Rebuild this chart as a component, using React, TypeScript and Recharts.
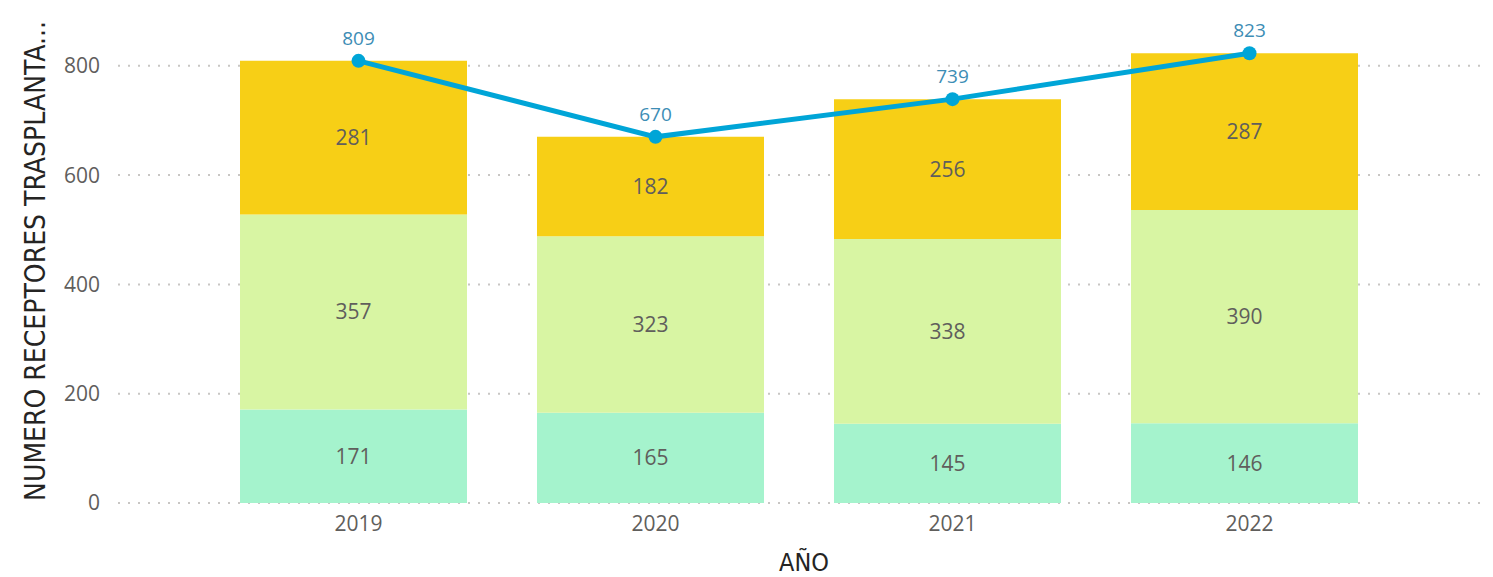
import React from "react";
import {
  Bar,
  CartesianGrid,
  ComposedChart,
  LabelList,
  Line,
  XAxis,
  YAxis,
} from "recharts";

// Values, bottom segment first.
const YEARS = ["2019", "2020", "2021", "2022"];
const SEG_BOTTOM = [171, 165, 145, 146];
const SEG_MIDDLE = [357, 323, 338, 390];
const SEG_TOP = [281, 182, 256, 287];
const TOTALS = [809, 670, 739, 823];
const Y_TICKS = [0, 200, 400, 600, 800];

const data = YEARS.map((year, i) => ({
  year,
  bottom: SEG_BOTTOM[i],
  middle: SEG_MIDDLE[i],
  top: SEG_TOP[i],
  total: TOTALS[i],
}));

const TEXT_FONT = '"Segoe UI", "Open Sans", sans-serif';
const TITLE_FONT = '"Liberation Sans Narrow", "DejaVu Sans Condensed", sans-serif';
const MUTED = "#605E5C";
const LINE_BLUE = "#00A5D7";

const barLabel = {
  fill: MUTED,
  fontSize: 21,
  fontFamily: TEXT_FONT,
};

function YTitle({ viewBox }: { viewBox?: { x: number; y: number; height: number } }) {
  if (!viewBox) return null;
  const cx = viewBox.x + 45;
  const cy = viewBox.y + viewBox.height / 2 - 7;
  return (
    <text
      x={cx}
      y={cy}
      transform={`rotate(-90 ${cx} ${cy})`}
      textAnchor="middle"
      fill="#252423"
      fontSize={28}
      fontFamily={TITLE_FONT}
    >
      NUMERO RECEPTORES TRASPLANTA...
    </text>
  );
}

export default function App() {
  return (
    <div style={{ position: "absolute", left: 0, top: 0, background: "#fff" }}>
      <ComposedChart
        width={1493}
        height={577}
        data={data}
        margin={{ top: 33, right: 11, bottom: 0, left: 0 }}
      >
        <CartesianGrid
          vertical={false}
          syncWithTicks
          stroke="#C8C6C4"
          strokeWidth={2}
          strokeDasharray="2 8"
        />
        <XAxis
          xAxisId="line"
          dataKey="year"
          height={74}
          axisLine={false}
          tickLine={false}
          tickSize={0}
          tickMargin={13}
          padding={{ left: 92, right: 84 }}
          tick={{ fill: MUTED, fontSize: 21, fontFamily: TEXT_FONT }}
          label={{
            value: "AÑO",
            position: "insideBottom",
            offset: 6,
            dx: 4,
            fill: "#252423",
            fontSize: 25,
            fontFamily: TITLE_FONT,
          }}
        />
        {/* bars sit a few px left of the category centre, like the original */}
        <XAxis
          xAxisId="bars"
          dataKey="year"
          hide
          height={0}
          padding={{ left: 87, right: 89 }}
        />
        <YAxis
          width={118}
          domain={[0, 860]}
          ticks={Y_TICKS}
          axisLine={false}
          tickLine={false}
          tickSize={0}
          tickMargin={18}
          tick={{ fill: MUTED, fontSize: 21, fontFamily: TEXT_FONT }}
          label={<YTitle />}
        />
        <Bar
          xAxisId="bars"
          dataKey="bottom"
          stackId="a"
          fill="#A5F3CD"
          barSize={227}
          isAnimationActive={false}
        >
          <LabelList dataKey="bottom" position="center" {...barLabel} />
        </Bar>
        <Bar
          xAxisId="bars"
          dataKey="middle"
          stackId="a"
          fill="#D8F5A3"
          barSize={227}
          isAnimationActive={false}
        >
          <LabelList dataKey="middle" position="center" {...barLabel} />
        </Bar>
        <Bar
          xAxisId="bars"
          dataKey="top"
          stackId="a"
          fill="#F7CF16"
          barSize={227}
          isAnimationActive={false}
        >
          <LabelList dataKey="top" position="center" {...barLabel} />
        </Bar>
        <Line
          xAxisId="line"
          dataKey="total"
          type="linear"
          stroke={LINE_BLUE}
          strokeWidth={5}
          dot={{ r: 7, fill: LINE_BLUE, stroke: "none" }}
          activeDot={false}
          isAnimationActive={false}
        >
          <LabelList
            dataKey="total"
            position="top"
            offset={16}
            fill="#3D8DB5"
            fontSize={19}
            fontFamily={TEXT_FONT}
          />
        </Line>
      </ComposedChart>
    </div>
  );
}
